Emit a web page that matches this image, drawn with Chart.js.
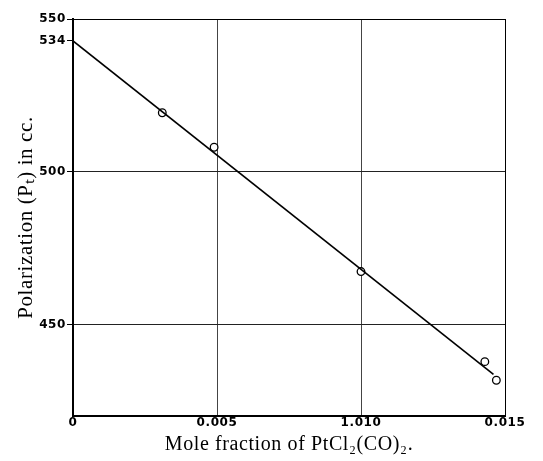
<!DOCTYPE html>
<html>
<head>
<meta charset="utf-8">
<script src="https://cdn.jsdelivr.net/npm/chart.js@4"></script>
<style>
  html, body { margin: 0; padding: 0; background: #fff; }
  #wrap { width: 543px; height: 461px; }
</style>
</head>
<body>
<div id="wrap"><canvas id="chart"></canvas></div>
<script>
// measured points (mole fraction, polarization)
var moleFraction = [0.0031, 0.0049, 0.0100, 0.0143, 0.0147];
var polarization = [519.3, 508.0, 467.3, 437.8, 431.7];

// drawn straight line, as it sits on the figure
var lineX = [0, 0.0146];
var lineY = [542.8, 433.6];

var xTicks = [0, 0.005, 0.010, 0.015];
var xTickLabels = ['0', '0.005', '1.010', '0.015'];
var yTicks = [450, 500, 542.8, 550];
var yTickLabels = ['450', '500', '534', '550'];

function pairs(xs, ys) {
  return xs.map(function(x, i) { return { x: x, y: ys[i] }; });
}

var tickFont = { family: 'DejaVu Sans', size: 12, weight: 'bold' };

// the print has loosely spaced lettering
var spacing = {
  id: 'spacing',
  beforeDraw: function(chart) { chart.ctx.letterSpacing = '0.6px'; }
};

var ctx = document.getElementById('chart');
var chart = new Chart(ctx, {
  type: 'scatter',
  data: {
    datasets: [{
      label: 'fit',
      data: pairs(lineX, lineY),
      showLine: true,
      borderColor: '#000',
      borderWidth: 1.6,
      pointRadius: 0,
      fill: false
    }, {
      label: 'measured',
      data: pairs(moleFraction, polarization),
      showLine: false,
      pointRadius: 3.8,
      pointBorderWidth: 1.3,
      pointBorderColor: '#000',
      pointBackgroundColor: '#fff'
    }]
  },
  options: {
    responsive: true,
    maintainAspectRatio: false,
    animation: false,
    layout: { padding: { top: 19, right: 38, left: 0, bottom: 0 } },
    plugins: { legend: { display: false }, tooltip: { enabled: false } },
    scales: {
      x: {
        type: 'linear',
        min: 0,
        max: 0.015,
        afterBuildTicks: function(axis) {
          axis.ticks = xTicks.map(function(v) { return { value: v }; });
        },
        afterFit: function(axis) { axis.height = 45; },
        ticks: {
          color: '#000',
          font: tickFont,
          padding: 0,
          maxRotation: 0,
          callback: function(v, i) { return xTickLabels[i]; }
        },
        grid: {
          drawTicks: false,
          lineWidth: 1,
          color: function(c) {
            if (c.tick && c.tick.value === 0) return 'transparent';
            return c.tick && c.tick.value === 0.015 ? '#000' : '#444';
          }
        },
        border: { color: '#000', width: 2 },
        title: {
          display: true,
          text: 'Mole fraction of PtCl₂(CO)₂.',
          color: '#000',
          font: { family: 'Liberation Serif', size: 20 },
          padding: { top: 2 }
        }
      },
      y: {
        type: 'linear',
        min: 420,
        max: 550,
        afterBuildTicks: function(axis) {
          axis.ticks = yTicks.map(function(v) { return { value: v }; });
        },
        afterFit: function(axis) { axis.width = 73; },
        ticks: {
          color: '#000',
          font: tickFont,
          padding: 1,
          callback: function(v, i) { return yTickLabels[i]; }
        },
        grid: {
          tickLength: 6,
          tickColor: '#000',
          lineWidth: 1,
          color: function(c) {
            if (c.tick && c.tick.value === 542.8) return 'transparent';
            return c.tick && c.tick.value === 550 ? '#000' : '#222';
          }
        },
        border: { color: '#000', width: 2 },
        title: {
          display: true,
          text: 'Polarization (Pₜ) in cc.',
          color: '#000',
          font: { family: 'Liberation Serif', size: 21 },
          padding: { top: 14, bottom: 0 }
        }
      }
    }
  },
  plugins: [spacing]
});
</script>
</body>
</html>
